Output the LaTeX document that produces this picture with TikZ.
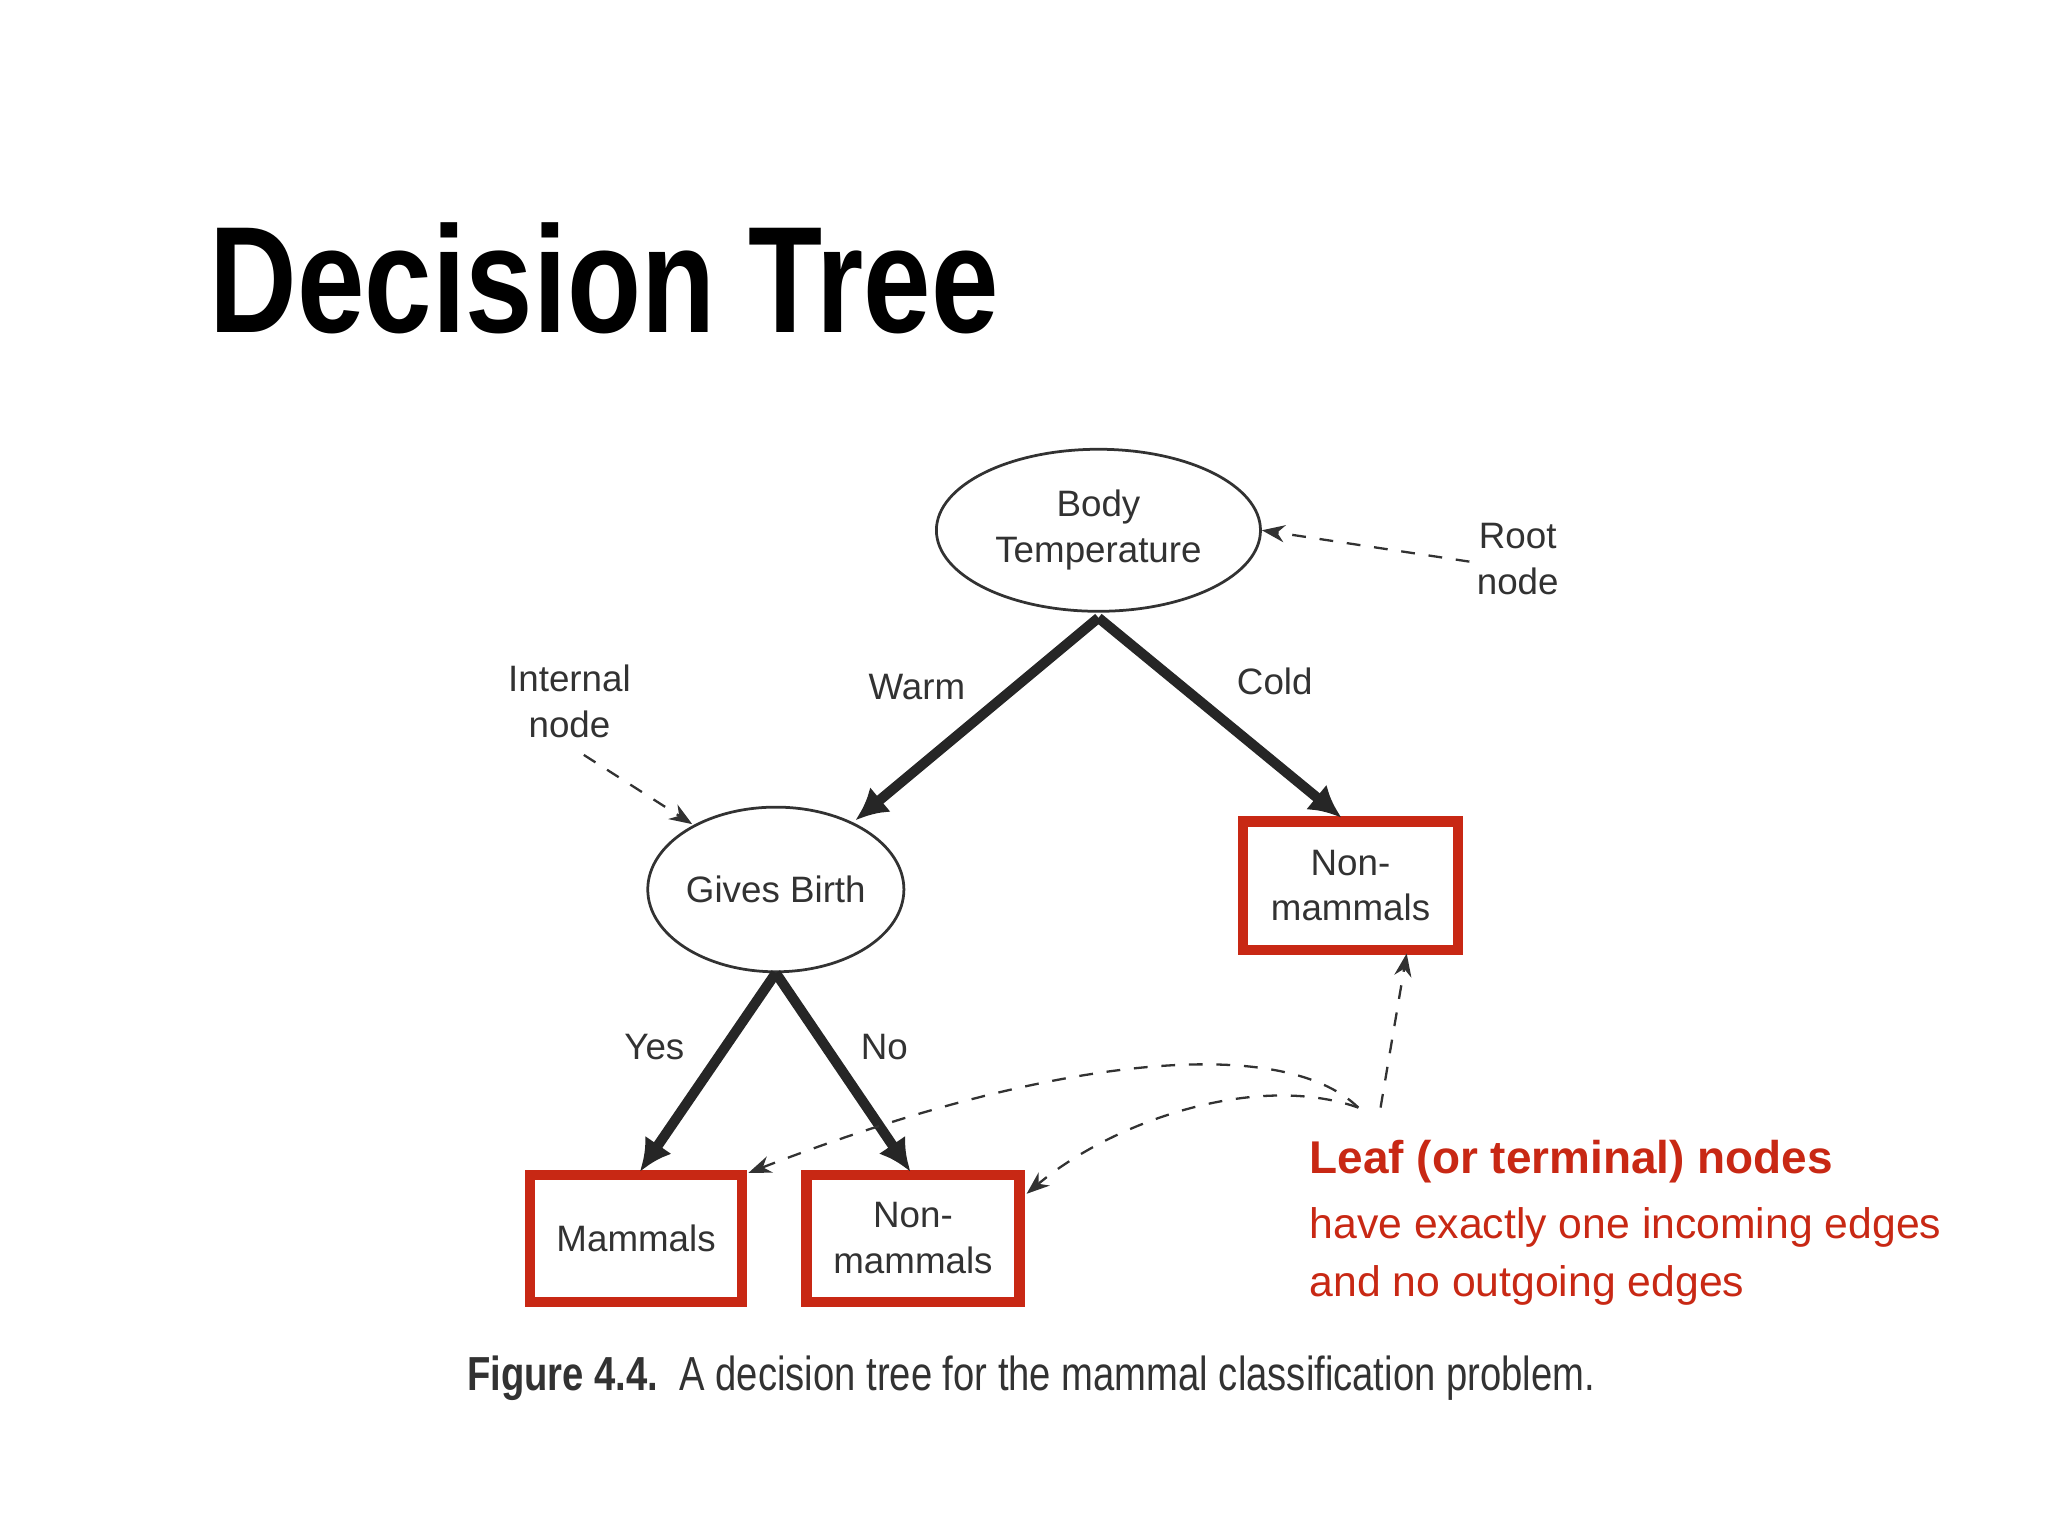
\documentclass[tikz,border=0pt]{standalone}
\usepackage{fontspec}
\setmainfont{Liberation Sans}
\usetikzlibrary{shapes.geometric,arrows.meta}
\definecolor{lred}{RGB}{200,40,20}
\definecolor{tx}{RGB}{50,50,50}
\tikzset{
 ell/.style={ellipse,draw=tx,line width=0.6pt,align=center,font=\fontsize{8}{10}\selectfont,text=tx,inner sep=0pt},
 leaf/.style={rectangle,draw=lred,line width=2.2pt,align=center,font=\fontsize{8}{10}\selectfont,text=tx,inner sep=0pt},
 edge/.style={line width=2.2pt,draw=black!85,-{Latex[length=7pt,width=7pt]}},
 lab/.style={font=\fontsize{8}{10}\selectfont,text=tx,align=center},
 dsh/.style={dashed,line width=0.5pt,draw=tx,-{Stealth[length=5pt]}}
}
\begin{document}
\begin{tikzpicture}[x=0.01cm,y=-0.01cm]
\useasboundingbox (0,0) rectangle (1568,1176);
\node[anchor=west,font=\bfseries\fontsize{33}{36}\selectfont,inner sep=0] (title) at (160,213) {\scalebox{0.8}[1]{Decision Tree}};
\node[ell,minimum width=2.48cm,minimum height=1.24cm] (bt) at (841,406) {Body\\Temperature};
\node[ell,minimum width=1.96cm,minimum height=1.26cm] (gb) at (594,681) {Gives Birth};
\node[leaf,minimum width=1.64cm,minimum height=0.98cm] (nm1) at (1034,678) {Non-\\mammals};
\node[leaf,minimum width=1.62cm,minimum height=0.97cm] (mm) at (487,948) {Mammals};
\node[leaf,minimum width=1.63cm,minimum height=0.97cm] (nm2) at (699,948) {Non-\\mammals};
\coordinate (btb) at (841,473);
\coordinate (gbb) at (594,745);
\draw[edge] (btb) -- (655,628) coordinate (w1);
\draw[edge] (btb) -- (1027,626);
\draw[edge] (gbb) -- (490,897);
\draw[edge] (gbb) -- (697,897);
\node[lab] (warm) at (702,526) {Warm};
\node[lab] (cold) at (976,522) {Cold};
\node[lab] (yes) at (501,802) {Yes};
\node[lab] (no) at (677,802) {No};
\node[lab] (root) at (1162,428) {Root\\node};
\node[lab] (intn) at (436,537) {Internal\\node};
\coordinate (r1) at (1125,430);
\draw[dsh] (r1) -- (bt.east);
\coordinate (i1) at (447,578);
\coordinate (i2) at (530,631);
\draw[dsh] (i1) -- (i2);
\coordinate (lf) at (1040,848);
\coordinate (lf2) at (1057,848);
\coordinate (a1) at (573,898);
\coordinate (a2) at (786,914);
\coordinate (a3) at (1077,730);
\draw[dsh] (lf) .. controls (980,790) and (800,810) .. (a1);
\draw[dsh] (lf) .. controls (960,820) and (850,860) .. (a2);
\draw[dsh] (lf2) -- (a3);
\node[anchor=west,text=lred,font=\bfseries\fontsize{10}{12}\selectfont,inner sep=0] (lt) at (1002,889) {Leaf (or terminal) nodes};
\node[anchor=north west,text=lred,align=left,font=\fontsize{9.3}{12.5}\selectfont,inner sep=0] (ld) at (1002,924) {have exactly one incoming edges\\and no outgoing edges};
\node[anchor=west,text=tx,font=\fontsize{10.4}{13}\selectfont,inner sep=0] (cap) at (357,1055) {\scalebox{0.8}[1]{\textbf{Figure 4.4.}\ \ A decision tree for the mammal classification problem.}};
\end{tikzpicture}
\end{document}
